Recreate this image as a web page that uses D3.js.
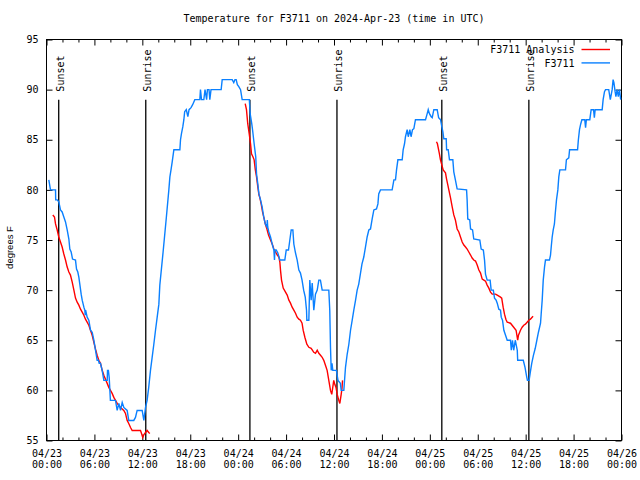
<!DOCTYPE html>
<html><head><meta charset="utf-8">
<script src="https://cdn.jsdelivr.net/npm/d3@7"></script>
<style>body{margin:0;background:#fff}svg{display:block}</style>
</head><body><svg id="c" width="640" height="480"></svg>
<script>
// ---------- data ----------
const titleText = "Temperature for F3711 on 2024-Apr-23 (time in UTC)";
const yLabelText = "degrees F";
const startUTC = "2024-04-23T00:00:00Z";
const endUTC = "2024-04-26T00:00:00Z";
const yTicks = [55, 60, 65, 70, 75, 80, 85, 90, 95];
const seriesNames = ["F3711 Analysis", "F3711"];
const sunsetHours = [1.53, 25.47, 49.5];
const sunriseHours = [12.43, 36.37, 60.4];

// observed station temperature: [hours since start, degF]
const observed = [
[0.29,81],[0.5,80],[1.13,80],[1.15,79],[1.34,79],[1.54,78.8],[1.75,78],[1.96,77.8],[2.17,77.3],[2.38,76.8],[2.59,76],[2.8,75.1],[2.92,74.1],[3.09,73.8],[3.26,73.1],[3.63,73],[3.76,72.1],[3.92,71.8],[4.05,71.3],[4.17,70.6],[4.34,69.6],[4.47,69],[4.68,68.3],[4.8,68],[4.85,67.5],[4.9,68],[5.09,67.3],[5.3,67],[5.51,66],[5.72,65.8],[5.93,65],[6.14,64],[6.34,63],[6.5,63],[6.6,62.7],[6.76,62.7],[6.97,62],[7.18,61],[7.6,61],[7.64,62],[7.75,62],[7.85,61.3],[8.0,59],[8.64,59],[8.85,58],[9.06,58.7],[9.27,58],[9.48,58.8],[9.68,58.3],[10.1,58],[10.3,57],[10.93,57],[11.14,57.3],[11.35,58],[11.98,58],[12.19,57],[12.4,58.3],[12.6,59],[12.8,60.3],[13.02,62],[13.23,63.3],[13.44,64.6],[13.65,66],[13.86,67.3],[14.07,68.6],[14.19,70.5],[14.6,73.8],[15.0,77.2],[15.32,80],
[15.45,81.3],[15.61,82.1],[15.74,82.8],[15.86,83.5],[15.95,84],[16.7,84],[16.78,85],[16.9,85.6],[17.07,86.3],[17.2,87],[17.3,87.8],[17.5,88],[17.7,87.3],[17.85,88],[18.1,88.2],[18.3,88.5],[18.57,89],[19.2,89],[19.28,90],[19.41,89],[19.7,89],[19.85,90],[20.05,89],[20.15,90],[20.35,90],[20.45,89],[20.6,90],[21.87,90],[22.0,91],[23.25,91],[23.45,90.7],[23.6,91],[23.75,91],[23.9,90.5],[24.08,90.3],[24.3,90],[24.5,89],[25.4,89],
[25.5,87.6],[25.7,86.6],[25.8,86],[26.0,84.6],[26.2,83.3],[26.3,81.6],[26.46,80.6],[26.6,79.6],[26.8,79],[27.0,78.3],[27.2,77.3],[27.4,76.6],[27.6,76.3],[27.65,77],[27.7,76.3],[27.84,75.8],[28.05,75.3],[28.26,74.6],[28.47,74],[28.55,73],[28.6,74],[28.76,74],[28.97,73.7],[29.22,73],[29.84,73],[30.02,74],[30.3,74],[30.47,75],[30.64,76],[30.85,76],[30.97,74.6],[31.18,73.7],[31.39,73],[31.6,72],[31.8,71.7],[32.0,71],[32.2,70],[32.4,69.3],[32.56,68],[32.6,67],[32.85,67],[32.97,71],[33.14,69],[33.27,70.7],[33.47,68],[33.68,69.6],[33.9,70],[34.1,71],[34.3,71],[34.52,70],[35.35,70],[35.47,68],[35.56,64.3],[35.65,62],[35.75,62.7],[35.85,62],[36.3,62],[36.5,61],[36.8,60.7],[36.9,60],[37.23,60],
[37.44,62.3],[37.65,63.6],[37.86,64.6],[38.07,66],[38.28,67],[38.48,68],[38.7,69],[38.9,70],[39.1,70.6],[39.3,71.6],[39.5,72.6],[39.73,73.3],[39.94,74.3],[40.15,75.3],[40.36,76],[40.57,76.1],[40.78,77.1],[40.99,78],[41.32,78.1],[41.5,78.6],[41.6,79.6],[41.82,80],[43.28,80],[43.5,81],[43.7,81],[43.83,82],[44.0,83],[44.54,83],[44.66,84],[44.83,84.6],[44.95,85.3],[45.16,86],[45.3,85.3],[45.5,86],[45.65,85.3],[45.83,86],[46.0,86.1],[46.2,87],[47.46,87],[47.67,87.6],[47.8,88],[47.95,87.6],[48.17,87.3],[48.3,87.2],[48.5,88],[48.92,88],[49.1,87.2],[49.34,87],[49.5,86.3],[49.63,85.8],[49.75,85.1],[50.05,85.1],[50.1,84],[50.3,84],[50.46,83],[50.88,83],[51.0,81.8],[51.2,81],[51.42,80.1],[52.6,80],[52.67,79],[52.75,77.1],[53.0,77],[53.1,76.1],[53.35,76],[53.5,75.1],[54.26,75],[54.43,74.1],[54.7,74],[54.85,73],[54.97,71.6],[55.18,71],[55.55,71],[55.68,70],[55.95,70],[56.1,69.2],[56.3,69],[56.44,68.7],[56.64,68.1],[56.85,68],[56.94,67.3],[57.1,67],[57.27,66],[57.48,65.5],[57.69,65],[58.1,65],[58.2,64],[58.35,65],[58.5,64],[58.7,65],[58.95,64],[59.0,63],[59.7,63],[59.92,62.3],[60.14,61.3],[60.22,61],[60.43,61],
[60.56,61.7],[60.76,62.7],[60.97,63.5],[61.2,64.2],[61.4,65],[61.6,65.8],[61.86,66.7],[61.94,67.6],[62.07,69],[62.2,71],[62.36,72.3],[62.48,73],[62.98,73],[63.11,73.5],[63.2,74.3],[63.32,75.3],[63.45,76],[63.6,76.6],[63.7,77.6],[63.86,79],[64.03,80],[64.15,81.3],[64.28,82],[64.99,82],[65.1,83],[65.4,83.2],[65.5,84],[66.5,84],[66.6,85],[66.74,86],[66.9,86.6],[67.04,87],[67.4,87],[67.5,86.2],[67.6,87],[68.03,87],[68.2,88],[68.5,88],[68.6,87.2],[68.7,88],[69.58,88],[69.7,89],[69.87,89.8],[70.0,90],[70.4,90],[70.6,89],[70.83,90],[70.95,91],[71.05,90.7],[71.2,89.8],[71.3,89.3],[71.45,90],[71.6,89.3],[71.75,90],[71.9,89]
];

// analysis temperature, night segments: [hours since start, degF]
const analysisNight1 = [
[0.79,77.5],[1.0,77.3],[1.13,76.6],[1.34,76],[1.54,75.3],[1.75,74.8],[1.96,74.3],[2.17,73.6],[2.38,73],[2.59,72.3],[2.8,71.8],[3.0,71.5],[3.22,70.8],[3.43,70],[3.63,69.2],[3.84,68.8],[4.05,68.5],[4.26,68.1],[4.47,67.8],[4.68,67.5],[4.88,67.1],[5.09,66.8],[5.3,66.5],[5.51,66],[5.72,65.5],[5.93,64.8],[6.14,64.1],[6.34,63.5],[6.55,63],[6.76,62.7],[6.97,62],[7.18,61.5],[7.6,60.7],[7.8,60.3],[8.01,60],[8.22,59.7],[8.43,59.3],[8.64,59],[8.85,58.7],[9.27,58.3],[9.68,58],[9.89,57.7],[10.1,57],[10.3,56.7],[10.52,56.3],[10.73,56],[11.77,56],[11.9,55.7],[12.05,55.3],[12.2,55.6],[12.4,55.8],[12.6,56],[12.8,55.8],[12.94,55.7]
];
const analysisNight2 = [
[24.88,88.6],[25.04,88],[25.2,86.6],[25.38,85.6],[25.55,84.6],[25.67,83.6],[25.85,83.3],[26.0,83],[26.15,82],[26.3,81.3],[26.46,80.3],[26.6,79.5],[26.72,79.2],[26.88,78.6],[27.05,77.8],[27.2,77.3],[27.4,76.6],[27.6,76.1],[27.8,75.5],[28.05,75],[28.26,74.6],[28.47,74.1],[28.68,73.8],[28.9,73.5],[29.1,73.3],[29.22,72.8],[29.3,72],[29.43,71],[29.64,70.2],[29.93,69.8],[30.14,69.5],[30.35,69],[30.55,68.7],[30.76,68.3],[30.97,68],[31.18,67.7],[31.39,67.3],[31.6,67.1],[31.8,67],[32.0,66.7],[32.14,66],[32.35,65.3],[32.6,64.6],[32.85,64.3],[33.14,64.2],[33.47,63.8],[33.68,63.7],[33.9,64],[34.1,63.7],[34.31,63.5],[34.52,63.3],[34.72,63],[34.93,62.5],[35.14,62],[35.35,61],[35.56,60],[35.72,59.6],[35.97,61],[36.1,60.6],[36.25,60.3],[36.4,59.6],[36.6,59],[36.73,58.7],[36.9,59.6],[37.0,60.2],[37.07,61]
];
const analysisNight3 = [
[48.83,84.8],[48.95,84.6],[49.2,83.6],[49.33,83],[49.5,82.5],[49.67,82],[49.96,81.7],[50.09,81.1],[50.25,80.5],[50.38,80],[50.59,79.2],[50.8,78.3],[51.0,77.5],[51.2,77],[51.42,76.1],[51.63,75.8],[51.84,75.3],[52.05,74.8],[52.26,74.5],[52.47,74.3],[52.67,74.1],[52.88,73.8],[53.1,73.5],[53.3,73.2],[53.5,73],[53.72,72.9],[53.93,72.5],[54.14,72],[54.35,71.7],[54.56,71.1],[54.77,71],[54.97,70.9],[55.18,70.5],[55.39,70.2],[55.6,69.8],[55.81,69.6],[56.23,69.6],[56.44,69.5],[56.85,69.3],[57.0,69.2],[57.18,68.3],[57.35,67.6],[57.52,67.1],[57.69,66.8],[58.1,66.7],[58.5,66.3],[58.8,66],[59.0,65],[59.1,65.5],[59.35,66],[59.56,66.3],[59.76,66.5],[59.97,66.6],[60.18,66.8],[60.39,67],[60.6,67.1],[60.81,67.3],[60.93,67.4]
];

// ---------- chart ----------
const W = 640, H = 480;
const L = 46.5, R = 621.5, T = 39.5, B = 440.5;
const MONO = "'DejaVu Sans Mono', monospace";
const RED = "#ff0000", BLUE = "#0a80ff";

const svg = d3.select("#c");
svg.append("rect").attr("width", W).attr("height", H).attr("fill", "#fff");

const t0 = new Date(startUTC), t1 = new Date(endUTC);
const toDate = h => new Date(t0.getTime() + h * 3600e3);
const x = d3.scaleUtc().domain([t0, t1]).range([L, R]);
const y = d3.scaleLinear().domain([55, 95]).range([B, T]);

const majorT = d3.utcHour.every(6).range(t0, new Date(+t1 + 1));
const minorT = d3.utcHour.every(2).range(t0, new Date(+t1 + 1)).filter(d => d.getUTCHours() % 6 !== 0);

function styleAxis(g) {
  g.select(".domain").remove();
  g.selectAll(".tick line").attr("stroke", "#000").attr("stroke-width", 1);
  g.selectAll(".tick text").attr("font-family", MONO).attr("font-size", 10).attr("fill", "#000");
}

// minor x ticks bottom & top
svg.append("g").attr("transform", `translate(0,${B})`)
  .call(d3.axisBottom(x).tickValues(minorT).tickSize(-3).tickFormat("")).call(styleAxis);
svg.append("g").attr("transform", `translate(0,${T})`)
  .call(d3.axisTop(x).tickValues(minorT).tickSize(-3).tickFormat("")).call(styleAxis);
// major x ticks top
svg.append("g").attr("transform", `translate(0,${T})`)
  .call(d3.axisTop(x).tickValues(majorT).tickSize(-6).tickFormat("")).call(styleAxis);
// major x ticks bottom with two-line labels
const fDate = d3.utcFormat("%m/%d"), fTime = d3.utcFormat("%H:%M");
const gx = svg.append("g").attr("transform", `translate(0,${B})`)
  .call(d3.axisBottom(x).tickValues(majorT).tickSize(-6).tickFormat(fDate)).call(styleAxis);
gx.selectAll(".tick text").attr("dy", null).text(null).each(function(d) {
  const t = d3.select(this);
  t.append("tspan").attr("x", 0).attr("y", 16.2).text(fDate(d));
  t.append("tspan").attr("x", 0).attr("y", 27.2).text(fTime(d));
});

// y axes
svg.append("g").attr("transform", `translate(${L},0)`)
  .call(d3.axisLeft(y).tickValues(yTicks).tickSize(-6).tickPadding(8)).call(styleAxis);
svg.append("g").attr("transform", `translate(${R},0)`)
  .call(d3.axisRight(y).tickValues(yTicks).tickSize(-6).tickFormat("")).call(styleAxis);

// border
svg.append("rect").attr("x", L).attr("y", T).attr("width", R - L).attr("height", B - T)
  .attr("fill", "none").attr("stroke", "#000").attr("stroke-width", 1);

// title & y label
svg.append("text").attr("x", (L + R) / 2).attr("y", 22).attr("text-anchor", "middle")
  .attr("font-family", MONO).attr("font-size", 10).text(titleText);
svg.append("text").attr("transform", "translate(13,247.5) rotate(-90)").attr("text-anchor", "middle")
  .attr("font-family", "'Liberation Sans', Arial, sans-serif").attr("font-size", 9.5).text(yLabelText);

// sunset/sunrise markers
const lineTop = T + 0.15 * (B - T), labelY = B - 0.87 * (B - T);
const marks = sunsetHours.map(h => ({h, label: "Sunset"})).concat(sunriseHours.map(h => ({h, label: "Sunrise"})));
marks.forEach(m => {
  const px = x(toDate(m.h));
  svg.append("line").attr("x1", px).attr("x2", px).attr("y1", lineTop).attr("y2", B)
    .attr("stroke", "#000").attr("stroke-width", 1.3);
  svg.append("text").attr("transform", `translate(${px + 5},${labelY}) rotate(-90)`)
    .attr("font-family", MONO).attr("font-size", 10).text(m.label);
});

// data lines
const line = d3.line().x(d => x(toDate(d[0]))).y(d => y(d[1]));
[analysisNight1, analysisNight2, analysisNight3].forEach(seg => {
  svg.append("path").datum(seg).attr("d", line).attr("fill", "none")
    .attr("stroke", RED).attr("stroke-width", 1.4);
});
svg.append("path").datum(observed).attr("d", line).attr("fill", "none")
  .attr("stroke", BLUE).attr("stroke-width", 1.4);

// legend
const legColors = [RED, BLUE];
seriesNames.forEach((name, i) => {
  const by = 53.3 + i * 13.4;
  svg.append("text").attr("x", 574.5).attr("y", by).attr("text-anchor", "end")
    .attr("font-family", MONO).attr("font-size", 10).text(name);
  svg.append("line").attr("x1", 581.5).attr("x2", 610).attr("y1", by - 3.8).attr("y2", by - 3.8)
    .attr("stroke", legColors[i]).attr("stroke-width", 1.4);
});
</script></body></html>
